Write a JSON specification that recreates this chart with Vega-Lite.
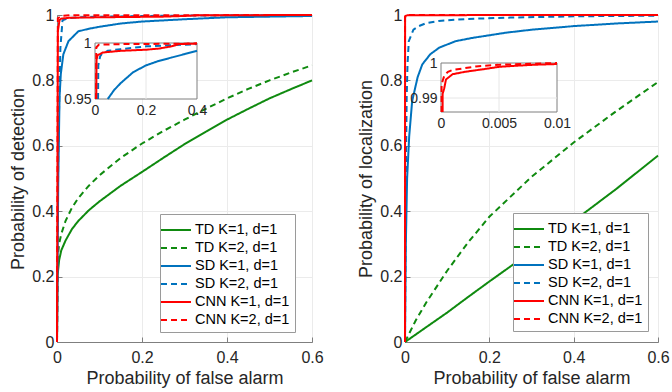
{
  "$schema": "https://vega.github.io/schema/vega-lite/v6.json",
  "padding": {"left": 9, "top": 6, "right": 2, "bottom": 2},
  "spacing": 33,
  "datasets": {
    "leftMain": [
      {"s": "TD K=1, d=1", "x": 0, "y": 0}, {"s": "TD K=1, d=1", "x": 0.001, "y": 0.2}, {"s": "TD K=1, d=1", "x": 0.005, "y": 0.25}, {"s": "TD K=1, d=1", "x": 0.01, "y": 0.28}, {"s": "TD K=1, d=1", "x": 0.02, "y": 0.31}, {"s": "TD K=1, d=1", "x": 0.035, "y": 0.345}, {"s": "TD K=1, d=1", "x": 0.05, "y": 0.37}, {"s": "TD K=1, d=1", "x": 0.075, "y": 0.403}, {"s": "TD K=1, d=1", "x": 0.1, "y": 0.43}, {"s": "TD K=1, d=1", "x": 0.15, "y": 0.478}, {"s": "TD K=1, d=1", "x": 0.2, "y": 0.52}, {"s": "TD K=1, d=1", "x": 0.25, "y": 0.563}, {"s": "TD K=1, d=1", "x": 0.3, "y": 0.605}, {"s": "TD K=1, d=1", "x": 0.35, "y": 0.643}, {"s": "TD K=1, d=1", "x": 0.4, "y": 0.68}, {"s": "TD K=1, d=1", "x": 0.45, "y": 0.713}, {"s": "TD K=1, d=1", "x": 0.5, "y": 0.745}, {"s": "TD K=1, d=1", "x": 0.55, "y": 0.773}, {"s": "TD K=1, d=1", "x": 0.6, "y": 0.8},
      {"s": "TD K=2, d=1", "x": 0, "y": 0}, {"s": "TD K=2, d=1", "x": 0.001, "y": 0.25}, {"s": "TD K=2, d=1", "x": 0.005, "y": 0.3}, {"s": "TD K=2, d=1", "x": 0.01, "y": 0.33}, {"s": "TD K=2, d=1", "x": 0.02, "y": 0.37}, {"s": "TD K=2, d=1", "x": 0.035, "y": 0.41}, {"s": "TD K=2, d=1", "x": 0.05, "y": 0.44}, {"s": "TD K=2, d=1", "x": 0.075, "y": 0.478}, {"s": "TD K=2, d=1", "x": 0.1, "y": 0.51}, {"s": "TD K=2, d=1", "x": 0.15, "y": 0.563}, {"s": "TD K=2, d=1", "x": 0.2, "y": 0.607}, {"s": "TD K=2, d=1", "x": 0.25, "y": 0.645}, {"s": "TD K=2, d=1", "x": 0.3, "y": 0.68}, {"s": "TD K=2, d=1", "x": 0.35, "y": 0.713}, {"s": "TD K=2, d=1", "x": 0.4, "y": 0.745}, {"s": "TD K=2, d=1", "x": 0.45, "y": 0.774}, {"s": "TD K=2, d=1", "x": 0.5, "y": 0.8}, {"s": "TD K=2, d=1", "x": 0.55, "y": 0.824}, {"s": "TD K=2, d=1", "x": 0.6, "y": 0.846},
      {"s": "SD K=1, d=1", "x": 0, "y": 0}, {"s": "SD K=1, d=1", "x": 0.003, "y": 0.5}, {"s": "SD K=1, d=1", "x": 0.006, "y": 0.75}, {"s": "SD K=1, d=1", "x": 0.009, "y": 0.82}, {"s": "SD K=1, d=1", "x": 0.015, "y": 0.88}, {"s": "SD K=1, d=1", "x": 0.027, "y": 0.92}, {"s": "SD K=1, d=1", "x": 0.05, "y": 0.95}, {"s": "SD K=1, d=1", "x": 0.075, "y": 0.958}, {"s": "SD K=1, d=1", "x": 0.1, "y": 0.964}, {"s": "SD K=1, d=1", "x": 0.15, "y": 0.974}, {"s": "SD K=1, d=1", "x": 0.2, "y": 0.98}, {"s": "SD K=1, d=1", "x": 0.3, "y": 0.987}, {"s": "SD K=1, d=1", "x": 0.4, "y": 0.993}, {"s": "SD K=1, d=1", "x": 0.5, "y": 0.995}, {"s": "SD K=1, d=1", "x": 0.6, "y": 0.997},
      {"s": "SD K=2, d=1", "x": 0, "y": 0}, {"s": "SD K=2, d=1", "x": 0.003, "y": 0.6}, {"s": "SD K=2, d=1", "x": 0.008, "y": 0.9}, {"s": "SD K=2, d=1", "x": 0.013, "y": 0.984}, {"s": "SD K=2, d=1", "x": 0.026, "y": 0.99}, {"s": "SD K=2, d=1", "x": 0.05, "y": 0.993}, {"s": "SD K=2, d=1", "x": 0.1, "y": 0.9945}, {"s": "SD K=2, d=1", "x": 0.2, "y": 0.997}, {"s": "SD K=2, d=1", "x": 0.4, "y": 0.999}, {"s": "SD K=2, d=1", "x": 0.6, "y": 1.0},
      {"s": "CNN K=1, d=1", "x": 0, "y": 0}, {"s": "CNN K=1, d=1", "x": 0.002, "y": 0.95}, {"s": "CNN K=1, d=1", "x": 0.006, "y": 0.985}, {"s": "CNN K=1, d=1", "x": 0.01, "y": 0.989}, {"s": "CNN K=1, d=1", "x": 0.03, "y": 0.9915}, {"s": "CNN K=1, d=1", "x": 0.1, "y": 0.993}, {"s": "CNN K=1, d=1", "x": 0.25, "y": 0.995}, {"s": "CNN K=1, d=1", "x": 0.3, "y": 0.997}, {"s": "CNN K=1, d=1", "x": 0.33, "y": 0.999}, {"s": "CNN K=1, d=1", "x": 0.6, "y": 1.0},
      {"s": "CNN K=2, d=1", "x": 0, "y": 0}, {"s": "CNN K=2, d=1", "x": 0.002, "y": 0.99}, {"s": "CNN K=2, d=1", "x": 0.01, "y": 0.997}, {"s": "CNN K=2, d=1", "x": 0.03, "y": 0.999}, {"s": "CNN K=2, d=1", "x": 0.6, "y": 1.0}
    ],
    "leftInset": [
      {"s": "SD K=1, d=1", "x": 0.05, "y": 0.95}, {"s": "SD K=1, d=1", "x": 0.075, "y": 0.958}, {"s": "SD K=1, d=1", "x": 0.1, "y": 0.964}, {"s": "SD K=1, d=1", "x": 0.15, "y": 0.974}, {"s": "SD K=1, d=1", "x": 0.2, "y": 0.98}, {"s": "SD K=1, d=1", "x": 0.25, "y": 0.984}, {"s": "SD K=1, d=1", "x": 0.3, "y": 0.987}, {"s": "SD K=1, d=1", "x": 0.35, "y": 0.99}, {"s": "SD K=1, d=1", "x": 0.4, "y": 0.993},
      {"s": "SD K=2, d=1", "x": 0.012, "y": 0.95}, {"s": "SD K=2, d=1", "x": 0.013, "y": 0.98}, {"s": "SD K=2, d=1", "x": 0.02, "y": 0.988}, {"s": "SD K=2, d=1", "x": 0.026, "y": 0.99}, {"s": "SD K=2, d=1", "x": 0.05, "y": 0.993}, {"s": "SD K=2, d=1", "x": 0.1, "y": 0.9945}, {"s": "SD K=2, d=1", "x": 0.2, "y": 0.997}, {"s": "SD K=2, d=1", "x": 0.3, "y": 0.998}, {"s": "SD K=2, d=1", "x": 0.4, "y": 0.999},
      {"s": "CNN K=1, d=1", "x": 0.005, "y": 0.95}, {"s": "CNN K=1, d=1", "x": 0.006, "y": 0.985}, {"s": "CNN K=1, d=1", "x": 0.01, "y": 0.989}, {"s": "CNN K=1, d=1", "x": 0.03, "y": 0.9915}, {"s": "CNN K=1, d=1", "x": 0.1, "y": 0.993}, {"s": "CNN K=1, d=1", "x": 0.2, "y": 0.994}, {"s": "CNN K=1, d=1", "x": 0.25, "y": 0.995}, {"s": "CNN K=1, d=1", "x": 0.3, "y": 0.997}, {"s": "CNN K=1, d=1", "x": 0.33, "y": 0.999}, {"s": "CNN K=1, d=1", "x": 0.4, "y": 0.9995},
      {"s": "CNN K=2, d=1", "x": 0.004, "y": 0.95}, {"s": "CNN K=2, d=1", "x": 0.005, "y": 0.996}, {"s": "CNN K=2, d=1", "x": 0.015, "y": 0.9985}, {"s": "CNN K=2, d=1", "x": 0.1, "y": 0.999}, {"s": "CNN K=2, d=1", "x": 0.4, "y": 0.9995}
    ],
    "rightMain": [
      {"s": "TD K=1, d=1", "x": 0, "y": 0}, {"s": "TD K=1, d=1", "x": 0.05, "y": 0.045}, {"s": "TD K=1, d=1", "x": 0.1, "y": 0.09}, {"s": "TD K=1, d=1", "x": 0.15, "y": 0.138}, {"s": "TD K=1, d=1", "x": 0.2, "y": 0.185}, {"s": "TD K=1, d=1", "x": 0.3, "y": 0.277}, {"s": "TD K=1, d=1", "x": 0.4, "y": 0.37}, {"s": "TD K=1, d=1", "x": 0.5, "y": 0.467}, {"s": "TD K=1, d=1", "x": 0.6, "y": 0.57},
      {"s": "TD K=2, d=1", "x": 0, "y": 0}, {"s": "TD K=2, d=1", "x": 0.025, "y": 0.065}, {"s": "TD K=2, d=1", "x": 0.05, "y": 0.12}, {"s": "TD K=2, d=1", "x": 0.1, "y": 0.218}, {"s": "TD K=2, d=1", "x": 0.15, "y": 0.305}, {"s": "TD K=2, d=1", "x": 0.2, "y": 0.383}, {"s": "TD K=2, d=1", "x": 0.3, "y": 0.505}, {"s": "TD K=2, d=1", "x": 0.4, "y": 0.61}, {"s": "TD K=2, d=1", "x": 0.5, "y": 0.705}, {"s": "TD K=2, d=1", "x": 0.6, "y": 0.795},
      {"s": "SD K=1, d=1", "x": 0, "y": 0}, {"s": "SD K=1, d=1", "x": 0.002, "y": 0.3}, {"s": "SD K=1, d=1", "x": 0.005, "y": 0.5}, {"s": "SD K=1, d=1", "x": 0.01, "y": 0.63}, {"s": "SD K=1, d=1", "x": 0.017, "y": 0.737}, {"s": "SD K=1, d=1", "x": 0.03, "y": 0.81}, {"s": "SD K=1, d=1", "x": 0.041, "y": 0.849}, {"s": "SD K=1, d=1", "x": 0.06, "y": 0.88}, {"s": "SD K=1, d=1", "x": 0.081, "y": 0.9}, {"s": "SD K=1, d=1", "x": 0.12, "y": 0.92}, {"s": "SD K=1, d=1", "x": 0.16, "y": 0.93}, {"s": "SD K=1, d=1", "x": 0.24, "y": 0.946}, {"s": "SD K=1, d=1", "x": 0.3, "y": 0.955}, {"s": "SD K=1, d=1", "x": 0.4, "y": 0.966}, {"s": "SD K=1, d=1", "x": 0.5, "y": 0.974}, {"s": "SD K=1, d=1", "x": 0.6, "y": 0.98},
      {"s": "SD K=2, d=1", "x": 0, "y": 0}, {"s": "SD K=2, d=1", "x": 0.002, "y": 0.5}, {"s": "SD K=2, d=1", "x": 0.004, "y": 0.75}, {"s": "SD K=2, d=1", "x": 0.006, "y": 0.85}, {"s": "SD K=2, d=1", "x": 0.009, "y": 0.92}, {"s": "SD K=2, d=1", "x": 0.02, "y": 0.955}, {"s": "SD K=2, d=1", "x": 0.033, "y": 0.966}, {"s": "SD K=2, d=1", "x": 0.05, "y": 0.975}, {"s": "SD K=2, d=1", "x": 0.08, "y": 0.982}, {"s": "SD K=2, d=1", "x": 0.15, "y": 0.988}, {"s": "SD K=2, d=1", "x": 0.25, "y": 0.992}, {"s": "SD K=2, d=1", "x": 0.4, "y": 0.996}, {"s": "SD K=2, d=1", "x": 0.6, "y": 0.998},
      {"s": "CNN K=1, d=1", "x": 0, "y": 0}, {"s": "CNN K=1, d=1", "x": 0.0002, "y": 0.99}, {"s": "CNN K=1, d=1", "x": 0.001, "y": 0.9968}, {"s": "CNN K=1, d=1", "x": 0.005, "y": 0.9989}, {"s": "CNN K=1, d=1", "x": 0.01, "y": 0.9995}, {"s": "CNN K=1, d=1", "x": 0.6, "y": 1.0},
      {"s": "CNN K=2, d=1", "x": 0, "y": 0}, {"s": "CNN K=2, d=1", "x": 0.0001, "y": 0.995}, {"s": "CNN K=2, d=1", "x": 0.001, "y": 0.998}, {"s": "CNN K=2, d=1", "x": 0.005, "y": 0.9995}, {"s": "CNN K=2, d=1", "x": 0.01, "y": 1.0}, {"s": "CNN K=2, d=1", "x": 0.6, "y": 1.0}
    ],
    "rightInset": [
      {"s": "CNN K=1, d=1", "x": 0.00014, "y": 0.986}, {"s": "CNN K=1, d=1", "x": 0.00014, "y": 0.9912}, {"s": "CNN K=1, d=1", "x": 0.00028, "y": 0.9928}, {"s": "CNN K=1, d=1", "x": 0.00043, "y": 0.9953}, {"s": "CNN K=1, d=1", "x": 0.001, "y": 0.9968}, {"s": "CNN K=1, d=1", "x": 0.0021, "y": 0.9975}, {"s": "CNN K=1, d=1", "x": 0.0036, "y": 0.9982}, {"s": "CNN K=1, d=1", "x": 0.005, "y": 0.9989}, {"s": "CNN K=1, d=1", "x": 0.0064, "y": 0.9992}, {"s": "CNN K=1, d=1", "x": 0.008, "y": 0.9995}, {"s": "CNN K=1, d=1", "x": 0.01, "y": 0.9997},
      {"s": "CNN K=2, d=1", "x": 0.00005, "y": 0.986}, {"s": "CNN K=2, d=1", "x": 0.00005, "y": 0.994}, {"s": "CNN K=2, d=1", "x": 0.0003, "y": 0.9965}, {"s": "CNN K=2, d=1", "x": 0.0006, "y": 0.9975}, {"s": "CNN K=2, d=1", "x": 0.001, "y": 0.998}, {"s": "CNN K=2, d=1", "x": 0.003, "y": 0.999}, {"s": "CNN K=2, d=1", "x": 0.005, "y": 0.9995}, {"s": "CNN K=2, d=1", "x": 0.01, "y": 1.0}
    ],
    "leftFrame": [{"x0": 0, "x1": 0.4, "y0": 0.95, "y1": 1}],
    "leftGrid": [{"x": 0.2, "y0": 0.95, "y1": 1}],
    "rightFrame": [{"x0": 0, "x1": 0.01, "y0": 0.986, "y1": 1}],
    "rightGridV": [{"x": 0.005, "y0": 0.986, "y1": 1}],
    "rightGridH": [{"y": 0.99, "x0": 0, "x1": 0.01}]
  },
  "hconcat": [
    {
      "width": 255,
      "height": 327,
      "layer": [
        {
          "data": {"name": "leftMain"},
          "mark": {"type": "line", "strokeWidth": 2},
          "encoding": {
            "x": {"field": "x", "type": "quantitative", "scale": {"domain": [0, 0.6], "nice": false},
              "axis": {"title": "Probability of false alarm", "values": [0, 0.2, 0.4, 0.6], "format": "~g", "tickSize": -5, "labelPadding": 12, "titlePadding": 4}},
            "y": {"field": "y", "type": "quantitative", "scale": {"domain": [0, 1], "nice": false},
              "axis": {"title": "Probability of detection", "values": [0, 0.2, 0.4, 0.6, 0.8, 1], "format": "~g", "tickSize": -5, "labelPadding": 8, "titlePadding": 4}},
            "color": {"field": "s", "type": "nominal", "title": null,
              "scale": {"domain": ["TD K=1, d=1", "TD K=2, d=1", "SD K=1, d=1", "SD K=2, d=1", "CNN K=1, d=1", "CNN K=2, d=1"],
                "range": ["#0f8a0f", "#0f8a0f", "#0072BD", "#0072BD", "#FF0000", "#FF0000"]},
              "legend": {"orient": "none", "legendX": 103, "legendY": 199}},
            "strokeDash": {"field": "s", "type": "nominal", "title": null,
              "scale": {"domain": ["TD K=1, d=1", "TD K=2, d=1", "SD K=1, d=1", "SD K=2, d=1", "CNN K=1, d=1", "CNN K=2, d=1"],
                "range": [[1, 0], [6, 4], [1, 0], [6, 4], [1, 0], [6, 4]]},
              "legend": {"orient": "none", "legendX": 103, "legendY": 199}},
            "order": {"value": null}
          }
        },
        {
          "layer": [
            {
              "data": {"name": "leftFrame"},
              "mark": {"type": "rect", "fill": "white", "stroke": "#7f7f7f", "strokeWidth": 1},
              "encoding": {
                "x": {"field": "x0", "type": "quantitative", "scale": {"domain": [0, 0.4], "range": [38, 140], "nice": false},
                  "axis": {"orient": "bottom", "offset": -243, "values": [0, 0.2, 0.4], "format": "~g", "title": null, "grid": false, "domain": false, "ticks": false, "labelFontSize": 14, "labelPadding": 4, "zindex": 1}},
                "x2": {"field": "x1"},
                "y": {"field": "y0", "type": "quantitative", "scale": {"domain": [0.95, 1], "range": [84, 28], "nice": false},
                  "axis": {"orient": "left", "offset": -38, "values": [0.95, 1], "format": "~g", "title": null, "grid": false, "domain": false, "ticks": false, "labelFontSize": 14, "labelPadding": 4, "zindex": 1}},
                "y2": {"field": "y1"}
              }
            },
            {
              "data": {"name": "leftGrid"},
              "mark": {"type": "rule", "stroke": "#e6e6e6", "strokeWidth": 1},
              "encoding": {"x": {"field": "x", "type": "quantitative"}, "y": {"field": "y0", "type": "quantitative"}, "y2": {"field": "y1"}}
            },
            {
              "data": {"name": "leftInset"},
              "mark": {"type": "line", "strokeWidth": 2},
              "encoding": {
                "x": {"field": "x", "type": "quantitative"},
                "y": {"field": "y", "type": "quantitative"},
                "color": {"field": "s", "type": "nominal"},
                "strokeDash": {"field": "s", "type": "nominal"},
                "order": {"value": null}
              }
            }
          ]
        }
      ],
      "resolve": {"scale": {"x": "independent", "y": "independent"}}
    },
    {
      "width": 253,
      "height": 327,
      "layer": [
        {
          "data": {"name": "rightMain"},
          "mark": {"type": "line", "strokeWidth": 2},
          "encoding": {
            "x": {"field": "x", "type": "quantitative", "scale": {"domain": [0, 0.6], "nice": false},
              "axis": {"title": "Probability of false alarm", "values": [0, 0.2, 0.4, 0.6], "format": "~g", "tickSize": -5, "labelPadding": 12, "titlePadding": 4}},
            "y": {"field": "y", "type": "quantitative", "scale": {"domain": [0, 1], "nice": false},
              "axis": {"title": "Probability of localization", "values": [0, 0.2, 0.4, 0.6, 0.8, 1], "format": "~g", "tickSize": -5, "labelPadding": 8, "titlePadding": 4}},
            "color": {"field": "s", "type": "nominal", "title": null,
              "scale": {"domain": ["TD K=1, d=1", "TD K=2, d=1", "SD K=1, d=1", "SD K=2, d=1", "CNN K=1, d=1", "CNN K=2, d=1"],
                "range": ["#0f8a0f", "#0f8a0f", "#0072BD", "#0072BD", "#FF0000", "#FF0000"]},
              "legend": {"orient": "none", "legendX": 108, "legendY": 198}},
            "strokeDash": {"field": "s", "type": "nominal", "title": null,
              "scale": {"domain": ["TD K=1, d=1", "TD K=2, d=1", "SD K=1, d=1", "SD K=2, d=1", "CNN K=1, d=1", "CNN K=2, d=1"],
                "range": [[1, 0], [6, 4], [1, 0], [6, 4], [1, 0], [6, 4]]},
              "legend": {"orient": "none", "legendX": 108, "legendY": 198}},
            "order": {"value": null}
          }
        },
        {
          "layer": [
            {
              "data": {"name": "rightFrame"},
              "mark": {"type": "rect", "fill": "white", "stroke": "#7f7f7f", "strokeWidth": 1},
              "encoding": {
                "x": {"field": "x0", "type": "quantitative", "scale": {"domain": [0, 0.01], "range": [36, 152], "nice": false},
                  "axis": {"orient": "bottom", "offset": -230, "values": [0, 0.005, 0.01], "format": "~g", "title": null, "grid": false, "domain": false, "ticks": false, "labelFontSize": 14, "labelPadding": 4, "zindex": 1}},
                "x2": {"field": "x1"},
                "y": {"field": "y0", "type": "quantitative", "scale": {"domain": [0.986, 1], "range": [97, 48], "nice": false},
                  "axis": {"orient": "left", "offset": -36, "values": [0.99, 1], "format": "~g", "title": null, "grid": false, "domain": false, "ticks": false, "labelFontSize": 14, "labelPadding": 4, "zindex": 1}},
                "y2": {"field": "y1"}
              }
            },
            {
              "data": {"name": "rightGridV"},
              "mark": {"type": "rule", "stroke": "#e6e6e6", "strokeWidth": 1},
              "encoding": {"x": {"field": "x", "type": "quantitative"}, "y": {"field": "y0", "type": "quantitative"}, "y2": {"field": "y1"}}
            },
            {
              "data": {"name": "rightGridH"},
              "mark": {"type": "rule", "stroke": "#e6e6e6", "strokeWidth": 1},
              "encoding": {"y": {"field": "y", "type": "quantitative"}, "x": {"field": "x0", "type": "quantitative"}, "x2": {"field": "x1"}}
            },
            {
              "data": {"name": "rightInset"},
              "mark": {"type": "line", "strokeWidth": 2},
              "encoding": {
                "x": {"field": "x", "type": "quantitative"},
                "y": {"field": "y", "type": "quantitative"},
                "color": {"field": "s", "type": "nominal"},
                "strokeDash": {"field": "s", "type": "nominal"},
                "order": {"value": null}
              }
            }
          ]
        }
      ],
      "resolve": {"scale": {"x": "independent", "y": "independent"}}
    }
  ],
  "resolve": {
    "scale": {"color": "independent", "strokeDash": "independent"},
    "legend": {"color": "independent", "strokeDash": "independent"}
  },
  "config": {
    "font": "Liberation Sans",
    "view": {"stroke": "#7f7f7f", "strokeWidth": 1},
    "axis": {
      "labelFontSize": 16,
      "titleFontSize": 18,
      "titleFontWeight": "normal",
      "labelColor": "#262626",
      "titleColor": "#262626",
      "gridColor": "#ebebeb",
      "domainColor": "#7f7f7f",
      "tickColor": "#7f7f7f",
      "labelFlush": false,
      "labelOverlap": false
    },
    "legend": {
      "labelFontSize": 14.5,
      "labelColor": "#000000",
      "symbolType": "M-1.5,0L1.5,0",
      "symbolSize": 400,
      "symbolStrokeWidth": 2,
      "strokeColor": "#9a9a9a",
      "fillColor": "white",
      "padding": 5,
      "rowPadding": 0,
      "labelOffset": 8,
      "cornerRadius": 0
    }
  }
}
